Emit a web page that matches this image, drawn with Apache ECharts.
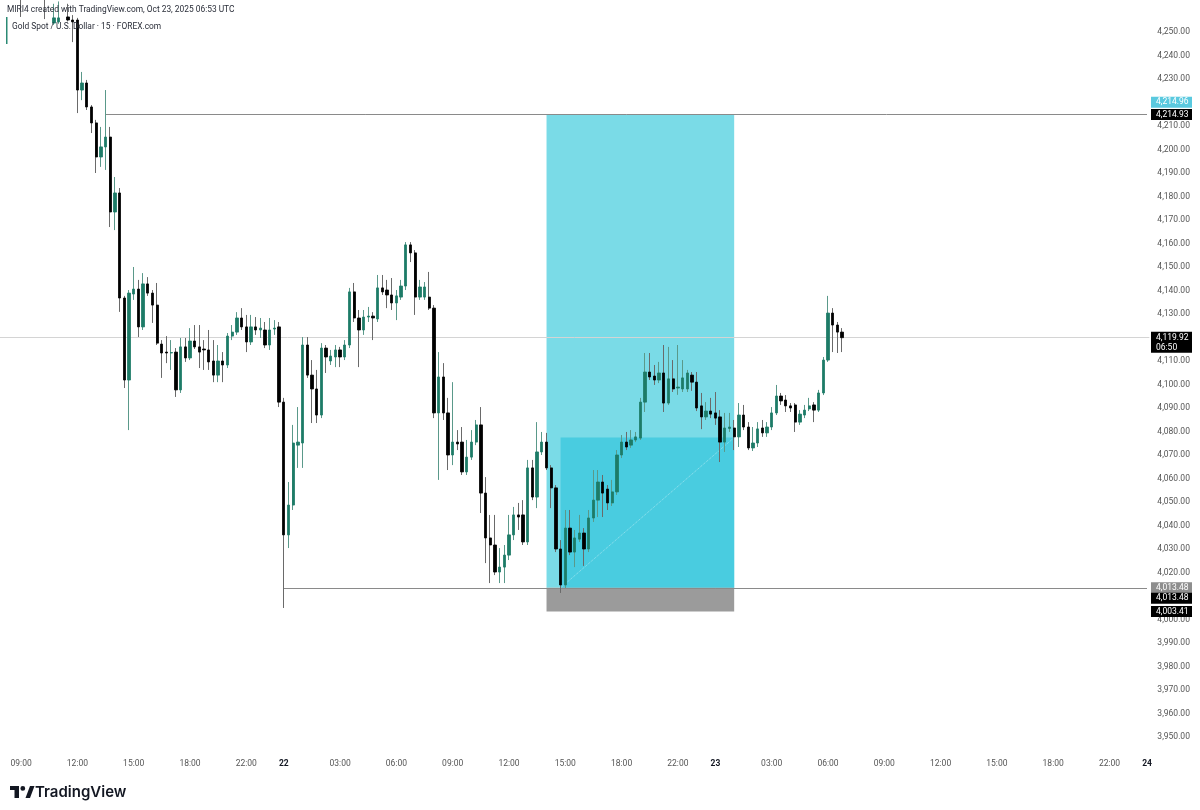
<!DOCTYPE html>
<html><head><meta charset="utf-8">
<script src="https://cdn.jsdelivr.net/npm/echarts@6/dist/echarts.min.js"></script>
<style>html,body{margin:0;padding:0;background:#fff}#c{width:1200px;height:810px}</style>
</head><body><div id="c"></div>
<script>
// ---------- DATA ----------
// 15-minute XAU/USD candles, first bar = Oct 21 09:00 UTC, last bar = Oct 23 06:45 UTC
const open = [4272,4268,4266,4264,4262,4265,4261,4253.8,4254.3,4258,
4256.4,4255.1,4255.1,4225.3,4228.3,4218.1,4211.3,4196.8,4201.1,4205.3,
4173.4,4181.5,4136.8,4101.9,4138.5,4140.6,4124.5,4142.8,4138.9,4133.8,
4117.2,4113.8,4113.4,4113.8,4097.7,4116,4111.3,4118.5,4116,4115.1,
4114.7,4110,4104,4110,4108.3,4120.6,4122.3,4128.3,4124.5,4118.1,
4124.5,4123.2,4123.2,4116.8,4123.6,4124.5,4092.5,4036,4048.7,4074.2,
4075.1,4116.8,4104,4098.1,4087,4115.5,4110,4111.7,4114.7,4111.7,
4116.8,4139.4,4128.3,4123.2,4128.7,4129.1,4127.9,4141.1,4140.2,4138.1,
4134.7,4137.2,4141.9,4159.4,4156,4137.2,4137.2,4137.2,4132.5,4087.9,
4103.2,4087.9,4070,4075.5,4075.5,4062.8,4069.1,4075.5,4082.8,4053.8,
4034.7,4031.7,4020.2,4022.3,4027.4,4036,4044.5,4044.5,4033,4064.5,
4052.1,4071.3,4075.5,4064.5,4056,4030,4014.7,4038.9,4028.7,4034.2,
4036.8,4030,4043.2,4050.8,4058.5,4055.5,4049.6,4054.3,4070,4075.5,
4074.2,4076.4,4077.2,4092.5,4105.3,4103.6,4101.9,4104.9,4092.1,4102.4,
4098.5,4098.1,4098.1,4104,4101,4090.9,4086.2,4088.7,4087.9,4086.2,
4075.5,4081.3,4081.5,4077.7,4087,4081.9,4073,4075.1,4081.5,4079.4,
4081.9,4087.9,4095.1,4093.4,4090.9,4091.3,4084,4087,4089.6,4091.3,
4089.1,4096.4,4110.4,4130.4,4125.3,4122.3];
const close = [4268,4266,4264,4262,4265,4261,4259,4256,4256,4262,
4255.1,4254.3,4225.3,4228.3,4218.1,4211.3,4196.8,4201.1,4205.3,4173.4,
4181.5,4136.8,4101.9,4138.9,4140.6,4124.5,4142.8,4138.9,4133.8,4117.6,
4113.4,4113.4,4113.6,4097.7,4116,4111.3,4118.5,4116,4113.8,4114.7,
4109.6,4104,4110,4108.3,4120.6,4122.3,4128.3,4124.5,4118.1,4124.5,
4123.2,4124,4116.8,4123.2,4124,4092.5,4036,4048.7,4075.1,4075.5,
4116.8,4104,4098.1,4087,4115.5,4111.7,4112.1,4114.7,4111.7,4116.8,
4139.4,4128.3,4123.2,4128.7,4129.1,4128.3,4141.1,4139.4,4138.1,4134.7,
4137.7,4141.9,4159.4,4156,4137.2,4141.5,4141.5,4132.5,4087.9,4103.2,
4087.9,4070,4075.5,4074.7,4062.8,4069.1,4075.5,4082.8,4053.8,4034.7,
4031.7,4020.2,4022.3,4027.4,4036,4044.5,4043.6,4033,4064.5,4052.1,
4071.3,4075.5,4064.5,4056,4030,4014.7,4038.9,4028.7,4034.7,4036.8,
4030,4043.2,4050.8,4058.5,4053.8,4049.6,4054.3,4070,4075.5,4073.4,
4076.4,4077.7,4092.5,4105.3,4103.2,4101.9,4104.9,4092.1,4102.4,4098.1,
4098.9,4102.8,4104.9,4101,4090,4086.2,4088.7,4087.4,4085.7,4075.5,
4081.5,4081.9,4077.7,4087,4081.9,4073,4075.1,4081.1,4079.4,4081.9,
4087.9,4095.1,4093,4090.9,4090,4084,4087.4,4089.1,4090.9,4089.1,
4096.4,4110.4,4130.4,4125.3,4122.3,4119.92];
const high = [4280,4274,4271,4270,4268,4270,4266,4262,4263,4266,
4262,4257.2,4256,4233,4229.6,4218.9,4212.6,4209.6,4225.3,4209.6,
4188.3,4183.6,4137.7,4140.2,4150,4144.5,4147.4,4145.7,4140.2,4143.2,
4118.9,4120.6,4118.9,4115.5,4119.8,4119.8,4124,4125.3,4125.3,4118.9,
4123.2,4118.9,4116.8,4113.8,4121.9,4125.3,4130.8,4132.5,4129.6,4129.6,
4128.7,4128.3,4126.6,4128.3,4127.4,4126.6,4094.3,4058.5,4082.8,4090.4,
4120.2,4120.2,4110.4,4106.2,4117.6,4116.8,4114.7,4116.8,4116,4118.9,
4141.1,4143.2,4131.7,4131.7,4133,4130.8,4146.6,4146.6,4144.5,4145.3,
4140.2,4144.5,4160.6,4160.6,4157.2,4144.5,4143.6,4147.9,4133.8,4113.8,
4109.1,4094.3,4101,4080.6,4081.9,4076.4,4080.6,4084.9,4090.4,4060.6,
4044.5,4044.5,4030.4,4031.7,4044.5,4047.9,4049.6,4050.8,4067.9,4067.9,
4084,4079.8,4079.4,4065.7,4057.2,4033.8,4046.6,4046.6,4038.1,4044.5,
4038.9,4046.6,4063.6,4063.6,4061.5,4057.2,4059.4,4072.1,4078.5,4079.8,
4080.6,4079.8,4094.3,4113.4,4113.4,4108.3,4109.6,4116.8,4116,4110.4,
4116.8,4110.4,4106.2,4105.3,4105.3,4096.4,4092.5,4094.3,4096.8,4089.1,
4087.9,4087.9,4084.9,4092.1,4091.3,4084,4081.9,4084,4084.9,4084,
4090.4,4099.8,4096.4,4095.5,4092.1,4092.1,4089.1,4091.3,4094.3,4092.5,
4097.7,4111.7,4137.7,4132.5,4126.6,4124];
const low = [4256.4,4262,4260,4259,4258,4255.5,4258,4253,4253.5,4257.5,
4254.5,4245.7,4215.5,4221,4216.8,4207,4190,4192.6,4191.3,4167,
4165.7,4130.9,4098.5,4080.6,4136,4120.2,4123.2,4137.7,4126.2,4116.8,
4102.8,4109.1,4106.2,4094.7,4096.4,4109.6,4110.4,4115.1,4107,4106.2,
4106.2,4101,4101,4101,4107,4118.9,4121.1,4123.2,4113.8,4116.8,
4121.1,4119.8,4115.5,4114.7,4121.1,4090.4,4004.9,4030.4,4046.6,4064.5,
4064.5,4102.8,4083.6,4083.6,4085.7,4104.9,4108.3,4107.4,4107.4,4110.4,
4115.5,4126.6,4107.4,4121.1,4126.6,4118.9,4126.6,4138.1,4132.5,4131.7,
4127.4,4136,4140.2,4152.1,4129.6,4136,4136,4131.7,4085.7,4059.4,
4084.9,4063.6,4065.7,4072.1,4061.5,4061.5,4067.9,4074.2,4045.3,4024,
4015.5,4018.9,4015.5,4015.5,4025.3,4033.8,4038.1,4031.7,4031.7,4050.8,
4047.4,4070,4063.6,4047.4,4028.7,4011.3,4013.4,4027.4,4022.3,4033,
4022.8,4028.7,4041.5,4043.6,4043.6,4046.6,4048.3,4053,4068.7,4072.1,
4073,4075.5,4076.4,4088.3,4101.9,4099.8,4100.6,4088.3,4091.3,4096.8,
4095.6,4096.8,4096.8,4097.3,4088.7,4081,4084.9,4085.7,4082.8,4067,
4071.3,4079.8,4072.1,4073.4,4080.6,4072.1,4071.7,4073.4,4077.7,4077.7,
4080.6,4087,4091.3,4088.3,4088.3,4079.8,4082.8,4085.7,4088.7,4084,
4088.3,4095.5,4109.6,4113.8,4113.4,4113.8];

// drawing levels (long position tool + lines)
const targetPrice = 4214.93;
const targetTagPrice = 4214.96;
const entryPrice = 4013.48;
const stopPrice = 4003.41;
const lastPrice = 4119.92;
const filledTop = 4077.4;
const countdown = '06:50';

// x-axis tick labels (category index -> text)
const xTickIndex = [4,16,28,40,52,60,72,84,96,108,120,132,144,152,164,176,188,200,212,224,236,244];
const xTickText = ['09:00','12:00','15:00','18:00','22:00','22','03:00','06:00','09:00','12:00','15:00','18:00','22:00','23','03:00','06:00','09:00','12:00','15:00','18:00','22:00','24'];
const dayLabels = ['22','23','24'];

// category axis: 15-min slots from Oct 21 08:00, skipping daily 21:00 break hour
const categories = [];
(function(){
  let d = 21, m = 8*60;
  const pad = n => String(n).padStart(2,'0');
  while (categories.length < 245) {
    const h = Math.floor(m/60), mm = m % 60;
    if (h !== 21) categories.push('Oct ' + d + ' ' + pad(h) + ':' + pad(mm));
    m += 15; if (m >= 1440) { m = 0; d++; }
  }
})();
const firstBar = 4;      // category index of first candle
const toolStart = firstBar + 112, fillStart = firstBar + 115, toolEnd = firstBar + 152;
const targetLineStart = firstBar + 18, entryLineStart = firstBar + 56;
const lastCat = categories.length - 1;

// ---------- BUILD ----------
const UP = '#1d7b67', DOWN = '#000000';
const bodyRows = [], wickRows = [];
for (let i = 0; i < open.length; i++) {
  const j = firstBar + i, o = open[i], c = close[i], h = high[i], l = low[i];
  bodyRows.push([j, o, c, Math.min(o, c), Math.max(o, c)]);
  wickRows.push(c >= o ? [j, l, h, l, h] : [j, h, l, l, h]);
}
const fmt = v => v.toLocaleString('en-US', {minimumFractionDigits: 2, maximumFractionDigits: 2});

const chart = echarts.init(document.getElementById('c'));
const gridLeft = -2.15, gridTop = 15, gridBottom = 49.5;
chart.setOption({
  animation: false,
  backgroundColor: '#ffffff',
  title: [
    {text: 'MIRI4 created with TradingView.com, Oct 23, 2025 06:53 UTC', left: 7, top: 6, padding: 0,
     textStyle: {fontSize: 8.4, fontWeight: 'normal', color: '#2a2e39', fontFamily: 'Roboto'}},
    {text: 'Gold Spot / U.S. Dollar · 15 · FOREX.com', left: 12, top: 23, padding: 0,
     textStyle: {fontSize: 8.4, fontWeight: 'normal', color: '#2a2e39', fontFamily: 'Roboto'}}
  ],
  grid: {left: gridLeft, width: 245 * 4.7, top: gridTop, bottom: gridBottom, containLabel: false},
  xAxis: {
    type: 'category', data: categories, boundaryGap: true,
    axisLine: {show: false}, axisTick: {show: false}, splitLine: {show: false},
    axisLabel: {
      margin: -1, fontSize: 8.5, color: '#555', fontFamily: 'Roboto',
      interval: idx => xTickIndex.indexOf(idx) >= 0,
      formatter: (val, idx) => {
        const k = xTickIndex.indexOf(idx);
        if (k < 0) return '';
        const t = xTickText[k];
        return dayLabels.indexOf(t) >= 0 ? '{b|' + t + '}' : t;
      },
      rich: {b: {fontWeight: 'bold', fontSize: 8.5, color: '#131722', fontFamily: 'Roboto'}}
    }
  },
  yAxis: {
    type: 'value', position: 'right', min: 3940, max: 4257.23, interval: 10,
    splitLine: {show: false}, axisLine: {show: false}, axisTick: {show: false},
    axisLabel: {margin: 8, fontSize: 8.5, color: '#555', fontFamily: 'Roboto',
      formatter: v => (v < 3945 || v > 4252) ? '' : fmt(v)}
  },
  series: [
    {
      name: 'wicks', type: 'candlestick', z: 3, silent: true, barWidth: 1,
      dimensions: ['t', 'open', 'close', 'low', 'high'],
      encode: {x: 't', y: ['open', 'close', 'low', 'high']},
      data: wickRows,
      itemStyle: {color: '#5a998a', color0: '#6a6a6a', borderColor: '#5a998a', borderColor0: '#6a6a6a', borderWidth: 1},
      markArea: {
        silent: true, z: 1,
        data: [
          [{coord: [toolStart, targetPrice], itemStyle: {color: '#7adbe7'}}, {coord: [toolEnd, entryPrice]}],
          [{coord: [fillStart, entryPrice], itemStyle: {color: '#49cce0'}}, {coord: [toolEnd, filledTop]}],
          [{coord: [toolStart, entryPrice], itemStyle: {color: '#9b9b9b'}}, {coord: [toolEnd, stopPrice]}]
        ]
      }
    },
    {
      name: 'XAUUSD', type: 'candlestick', z: 4, silent: true, barWidth: 2.8,
      dimensions: ['t', 'open', 'close', 'low', 'high'],
      encode: {x: 't', y: ['open', 'close', 'low', 'high']},
      data: bodyRows,
      itemStyle: {color: UP, color0: DOWN, borderColor: UP, borderColor0: DOWN, borderWidth: 0.8},
      markLine: {
        silent: true, z: 2, symbol: ['none', 'none'], label: {show: false},
        data: [
          [{coord: [targetLineStart, targetPrice], lineStyle: {color: '#8a8a8a', width: 1, type: 'solid'}}, {coord: [lastCat, targetPrice]}],
          [{coord: [entryLineStart, entryPrice], lineStyle: {color: '#8a8a8a', width: 1, type: 'solid'}}, {coord: [lastCat, entryPrice]}],
          {yAxis: lastPrice, lineStyle: {color: '#d4d4d4', width: 1, type: 'solid'}},
          [{coord: [fillStart, entryPrice], lineStyle: {color: 'rgba(255,255,255,0.45)', width: 1, type: 'dotted'}}, {coord: [toolEnd, filledTop]}]
        ]
      }
    }
  ]
});

// ---------- price tags on the right scale ----------
const yPix = v => chart.convertToPixel({yAxisIndex: 0}, v);
const tagX = 1151, tagW = 41;
const tags = [
  {v: targetTagPrice, bg: '#5ac9df', fg: '#ffffff', dy: -12},
  {v: targetPrice, bg: '#000000', fg: '#ffffff', dy: 0},
  {v: entryPrice, bg: '#8e8e8e', fg: '#ffffff', dy: 0},
  {v: entryPrice, bg: '#000000', fg: '#ffffff', dy: 10.5},
  {v: stopPrice, bg: '#000000', fg: '#ffffff', dy: 0}
];
const g = [];
tags.forEach(t => {
  const y = yPix(t.v) + t.dy;
  g.push({type: 'rect', z: 100, shape: {x: tagX, y: y - 5.5, width: tagW, height: 11}, style: {fill: t.bg}});
  g.push({type: 'text', z: 101, x: tagX + 5, y: y, style: {text: fmt(t.v), fill: t.fg, font: '8.5px Roboto', verticalAlign: 'middle'}});
});
const ly = yPix(lastPrice);
g.push({type: 'rect', z: 100, shape: {x: tagX, y: ly - 6, width: tagW, height: 21}, style: {fill: '#000'}});
g.push({type: 'text', z: 101, x: tagX + 5, y: ly, style: {text: fmt(lastPrice), fill: '#fff', font: '8.5px Roboto', verticalAlign: 'middle'}});
g.push({type: 'text', z: 101, x: tagX + 5, y: ly + 10, style: {text: countdown, fill: '#fff', font: '8.5px Roboto', verticalAlign: 'middle'}});
// legend accent bar
g.push({type: 'rect', z: 50, shape: {x: 6, y: 17, width: 1.5, height: 27}, style: {fill: '#2b8a74'}});
// TradingView logo
g.push({type: 'group', x: 10, y: 786, z: 50, children: [
  {type: 'rect', shape: {x: 0, y: 0, width: 9, height: 4}, style: {fill: '#131722'}},
  {type: 'rect', shape: {x: 4.5, y: 0, width: 4.5, height: 12}, style: {fill: '#131722'}},
  {type: 'circle', shape: {cx: 12.8, cy: 2.4, r: 2.4}, style: {fill: '#131722'}},
  {type: 'polygon', shape: {points: [[15.5, 12], [20, 0], [24.5, 0], [20, 12]]}, style: {fill: '#131722'}}
]});
g.push({type: 'text', z: 50, x: 35, y: 792, style: {text: 'TradingView', fill: '#131722', font: '600 15px Inter', verticalAlign: 'middle'}});
chart.setOption({graphic: g});
</script>
</body></html>
